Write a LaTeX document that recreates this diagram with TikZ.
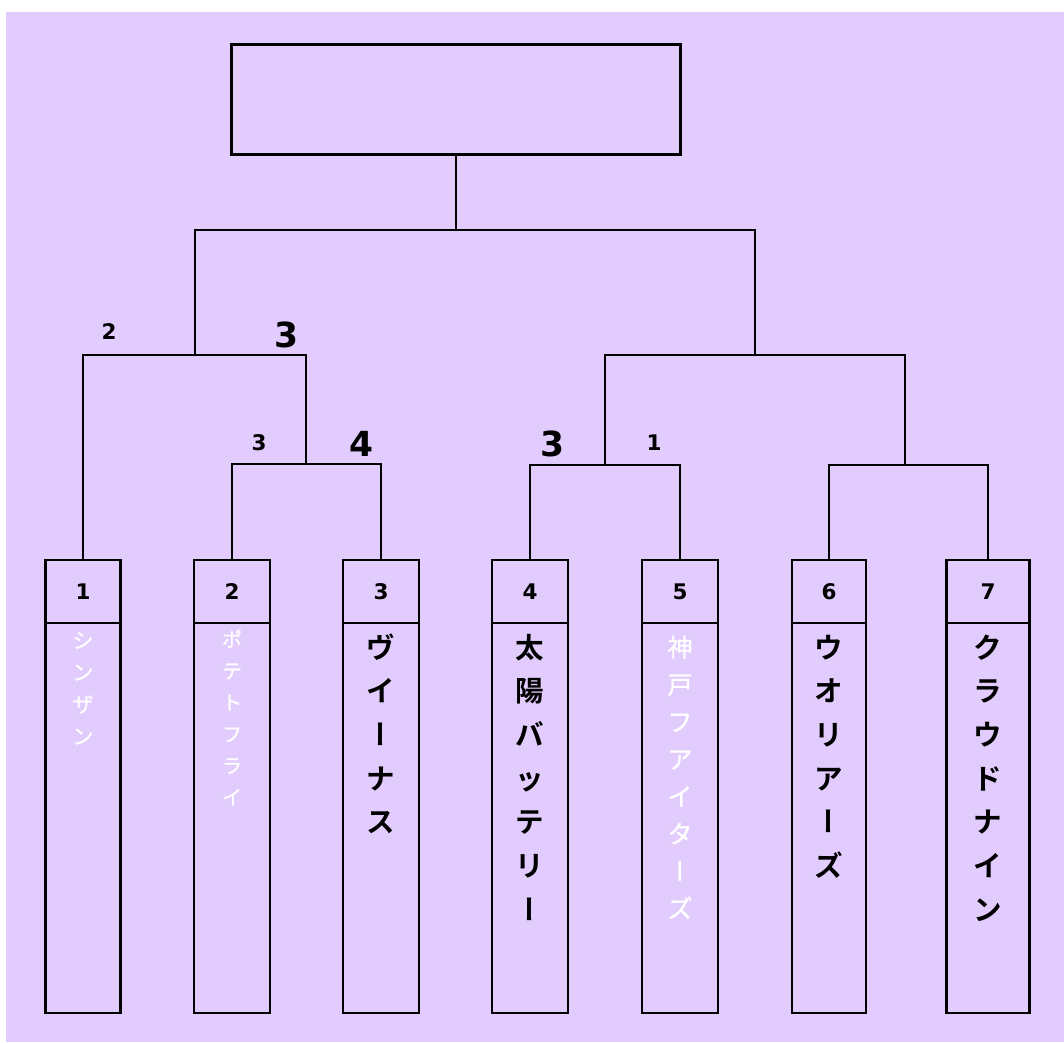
\documentclass[tikz,border=0pt]{standalone}
\usepackage{fontspec}
\setmainfont{DejaVu Sans}
\newfontfamily\jp{Noto Sans CJK JP}[BoldFont={Noto Sans CJK JP Bold}]
\newfontfamily\jpm{Noto Sans CJK JP}[FakeBold=0.9]
\newfontfamily\jpv{Noto Sans CJK JP}[BoldFont={Noto Sans CJK JP Bold},RawFeature=+vert]
\newfontfamily\jpmv{Noto Sans CJK JP}[FakeBold=0.9,RawFeature=+vert]
\newcommand{\chovert}{{\jpv ー}}
\newcommand{\chovertm}{{\jpmv ー}}
\definecolor{bg}{RGB}{226,204,253}
\begin{document}
\begin{tikzpicture}[x=1pt,y=-1pt,
  ln/.style={line width=2.4pt,line cap=rect},
  hdr/.style={draw,line width=2.4pt,minimum height=63pt,inner sep=0pt,font=\fontsize{21.5}{24}\selectfont\bfseries},
  bod/.style={draw,line width=2.4pt,minimum height=390pt,inner sep=0pt},
  sm/.style={font=\fontsize{21.5}{24}\selectfont\bfseries,inner sep=0pt},
  lg/.style={font=\fontsize{34.5}{40}\selectfont\bfseries,inner sep=0pt},
  nmb/.style={anchor=north,align=center,inner sep=0pt,font=\jp\bfseries\fontsize{28.5}{43.7}\selectfont},
  nmw/.style={anchor=north,align=center,inner sep=0pt,text=white}]
\useasboundingbox (0,0) rectangle (1064,1042);
\fill[bg] (6,12) rectangle (1064,1042);
% champion box
\node[draw,line width=3pt,minimum width=449pt,minimum height=110pt,inner sep=0pt] (top) at (456,99) {};
% team boxes
\foreach \i/\x/\w in {1/83/75,2/232/76,3/381/76,4/530/76,5/680/76,6/829/74,7/988/83}{
  \node[hdr,minimum width=\w pt] (h\i) at (\x,591.5) {\i};
  \node[bod,minimum width=\w pt] (b\i) at (\x,818) {};
}
% team names
\node[nmw,font=\jpm\fontsize{21}{32}\selectfont] (n1) at (83,627) {\rule{0pt}{21pt}シ\\ン\\ザ\\ン};
\node[nmw,font=\jpm\fontsize{20}{31.6}\selectfont] (n2) at (232,626.6) {\rule{0pt}{20pt}ポ\\テ\\ト\\フ\\ラ\\イ};
\node[nmb] (n3) at (381,629.3) {\rule{0pt}{28.5pt}ヴ\\イ\\\chovert\\ナ\\ス};
\node[nmb] (n4) at (530,629.3) {\rule{0pt}{28.5pt}太\\陽\\バ\\ッ\\テ\\リ\\\chovert};
\node[nmw,font=\jpm\fontsize{25}{37.3}\selectfont] (n5) at (680,631.5) {\rule{0pt}{25pt}神\\戸\\フ\\ア\\イ\\タ\\\chovertm\\ズ};
\node[nmb] (n6) at (829,629.3) {\rule{0pt}{28.5pt}ウ\\オ\\リ\\ア\\\chovert\\ズ};
\node[nmb] (n7) at (988,629.3) {\rule{0pt}{28.5pt}ク\\ラ\\ウ\\ド\\ナ\\イ\\ン};
% bracket junctions
\coordinate (m23) at (306,464);
\coordinate (m1) at (195,355);
\coordinate (m45) at (605,465);
\coordinate (m67) at (905,465);
\coordinate (m47) at (755,355);
\coordinate (fin) at (456,230);
\draw[ln] (h1.north) |- (m1) -| (m23);
\draw[ln] (h2.north) |- (m23) -| (h3.north);
\draw[ln] (h4.north) |- (m45) -| (h5.north);
\draw[ln] (h6.north) |- (m67) -| (h7.north);
\draw[ln] (m45) |- (m47) -| (m67);
\draw[ln] (m1) |- (fin) -| (m47);
\draw[ln] (top.south) -- (fin);
% scores
\node[sm] (s2) at (109,332) {2};
\node[lg] (l3a) at (286.5,334.5) {3};
\node[sm] (s3) at (259,443) {3};
\node[lg] (l4) at (361,444) {4};
\node[lg] (l3b) at (552,444) {3};
\node[sm] (s1) at (654,443) {1};
\end{tikzpicture}
\end{document}
